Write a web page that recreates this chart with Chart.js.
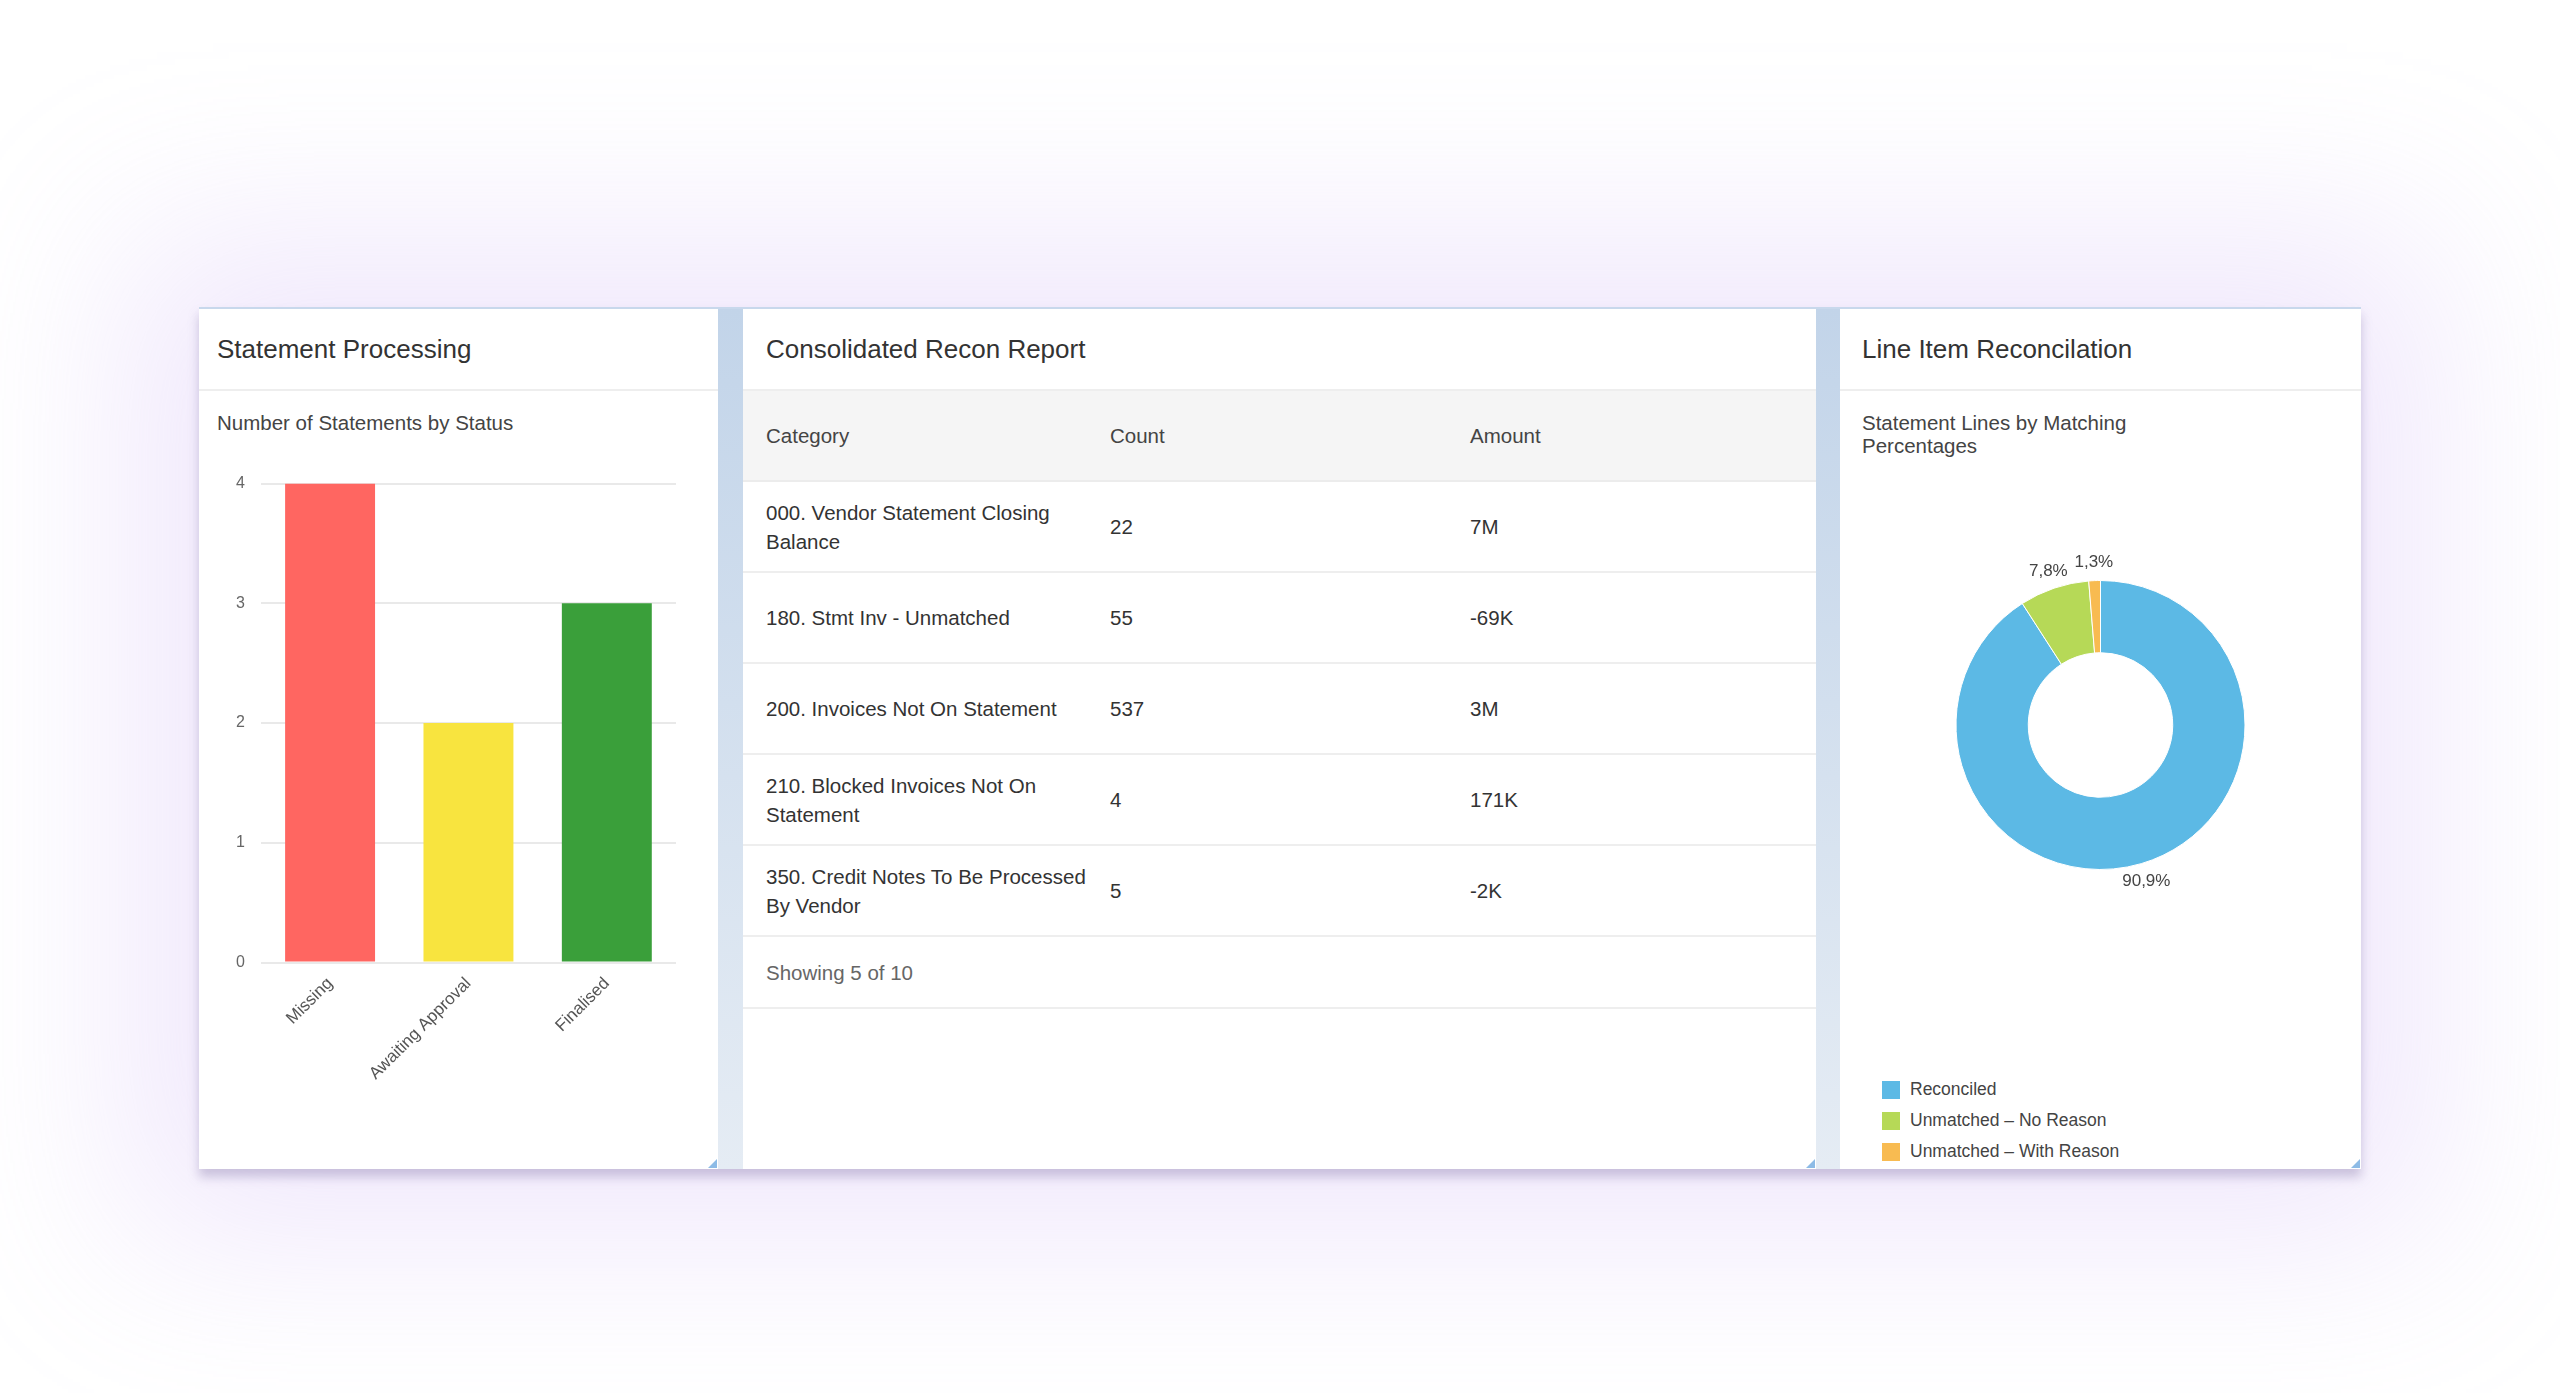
<!DOCTYPE html>
<html>
<head>
<meta charset="utf-8">
<title>Recon Dashboard</title>
<script src="https://cdn.jsdelivr.net/npm/chart.js"></script>
<style>
    html, body { margin: 0; padding: 0; background: #ffffff; }
    body { width: 2560px; height: 1393px; position: relative; overflow: hidden; font-family: "Liberation Sans", Arial, Helvetica, sans-serif; }
    #board {
        position: absolute; left: 199px; top: 307px; width: 2162px; height: 862px;
        background: linear-gradient(to bottom, #c2d4e9, #e5ecf4);
        border-top: 2px solid #c8d8ec;
        box-sizing: border-box;
        box-shadow: 0 8px 10px rgba(120, 105, 160, 0.35), 0 0 170px 70px rgba(205, 180, 245, 0.30);
    }
    .panel { position: absolute; top: 0; height: 860px; background: #ffffff; overflow: hidden; }
    .panel::after {
        content: ''; position: absolute; right: 1px; bottom: 1px; width: 0; height: 0;
        border-left: 9px solid transparent; border-bottom: 9px solid #8dbbe6;
    }
    .panel-head { height: 80px; border-bottom: 2px solid #eeeeee; box-sizing: content-box; }
    .panel-head h2 { margin: 0; font-weight: normal; font-size: 26px; color: #333333; line-height: 80px; }
    .subtitle { position: absolute; font-size: 20.5px; color: #444444; line-height: 23px; }
    #p1 { left: 0; width: 519px; }
    #p2 { left: 544px; width: 1073px; }
    #p3 { left: 1641px; width: 521px; }
    #barBox { position: absolute; left: 0; top: 149px; width: 519px; height: 711px; }
    #pieBox { position: absolute; left: 0; top: 226px; width: 521px; height: 380px; }
    table { border-collapse: collapse; table-layout: fixed; width: 1073px; font-size: 20.5px; color: #333333; }
    th, td { text-align: left; font-weight: normal; vertical-align: middle; padding: 0 0 0 11px; line-height: 29px; }
    th:first-child, td:first-child { padding-left: 23px; padding-right: 0; }
    thead tr { background: #f5f5f5; height: 90px; }
    thead th { color: #444444; border-bottom: 2px solid #ececec; }
    tbody tr { height: 91px; }
    tbody td { border-bottom: 2px solid #eeeeee; }
    tfoot td { height: 70px; color: #666666; border-bottom: 2px solid #eeeeee; }
    #legend { position: absolute; left: 42px; top: 765px; }
    .leg-row { height: 31px; display: flex; align-items: center; font-size: 17.5px; color: #444444; }
    .leg-box { width: 18px; height: 18px; margin-right: 10px; }
</style>
</head>
<body>
<div id="board">
    <div class="panel" id="p1">
        <div class="panel-head"><h2 style="padding-left:18px">Statement Processing</h2></div>
        <div class="subtitle" style="left:18px; top:102px">Number of Statements by Status</div>
        <div id="barBox"><canvas id="barChart"></canvas></div>
    </div>
    <div class="panel" id="p2">
        <div class="panel-head"><h2 style="padding-left:23px">Consolidated Recon Report</h2></div>
        <table id="reconTable">
            <colgroup><col style="width:356px"><col style="width:360px"><col></colgroup>
            <thead><tr><th>Category</th><th>Count</th><th>Amount</th></tr></thead>
            <tbody></tbody>
            <tfoot><tr><td colspan="3" id="showing"></td></tr></tfoot>
        </table>
    </div>
    <div class="panel" id="p3">
        <div class="panel-head"><h2 style="padding-left:22px">Line Item Reconcilation</h2></div>
        <div class="subtitle" style="left:22px; top:102px; width:300px">Statement Lines by Matching Percentages</div>
        <div id="pieBox"><canvas id="pieChart"></canvas></div>
        <div id="legend"></div>
    </div>
</div>

<script>
'use strict'

let statusLabels = ['Missing', 'Awaiting Approval', 'Finalised'];
let statusCounts = [4, 2, 3];
let statusColors = ['#ff6661', '#f8e43f', '#3a9f3a'];
let statusTicks = [0, 1, 2, 3, 4];

let reconCategories = [
    '000. Vendor Statement Closing Balance',
    '180. Stmt Inv - Unmatched',
    '200. Invoices Not On Statement',
    '210. Blocked Invoices Not On Statement',
    '350. Credit Notes To Be Processed By Vendor'
];
let reconCounts = ['22', '55', '537', '4', '5'];
let reconAmounts = ['7M', '-69K', '3M', '171K', '-2K'];
let reconShown = 5;
let reconTotal = 10;

let matchLabels = ['Reconciled', 'Unmatched \u2013 No Reason', 'Unmatched \u2013 With Reason'];
let matchShares = [90.9, 7.8, 1.3];
let matchColors = ['#5cb9e5', '#b6d957', '#f8bb51'];

let fontFamily = '"Liberation Sans", Arial, Helvetica, sans-serif';

// percentage labels just outside the ring
const outsideLabels = {
    id: 'outsideLabels',
    afterDatasetsDraw(chart) {
        let ctx = chart.ctx;
        let meta = chart.getDatasetMeta(0);
        ctx.save();
        ctx.font = '17px ' + fontFamily;
        ctx.fillStyle = '#444444';
        ctx.textAlign = 'center';
        ctx.textBaseline = 'middle';
        meta.data.forEach((arc, i) => {
            let mid = (arc.startAngle + arc.endAngle) / 2;
            let r = arc.outerRadius + 18;
            let text = matchShares[i].toFixed(1).replace('.', ',') + '%';
            ctx.fillText(text, arc.x + Math.cos(mid) * r, arc.y + Math.sin(mid) * r);
        });
        ctx.restore();
    }
};

function fillTable() {
    let body = document.querySelector('#reconTable tbody');
    reconCategories.forEach((cat, i) => {
        let tr = document.createElement('tr');
        [cat, reconCounts[i], reconAmounts[i]].forEach(text => {
            let td = document.createElement('td');
            td.textContent = text;
            tr.appendChild(td);
        });
        body.appendChild(tr);
    });
    document.getElementById('showing').textContent = 'Showing ' + reconShown + ' of ' + reconTotal;
}

function fillLegend() {
    let legend = document.getElementById('legend');
    matchLabels.forEach((label, i) => {
        let row = document.createElement('div');
        row.className = 'leg-row';
        let box = document.createElement('span');
        box.className = 'leg-box';
        box.style.background = matchColors[i];
        row.appendChild(box);
        row.appendChild(document.createTextNode(label));
        legend.appendChild(row);
    });
}

window.onload = function () {
    Chart.defaults.font.family = fontFamily;
    Chart.defaults.animation = false;

    new Chart(document.getElementById('barChart'), {
        type: 'bar',
        data: {
            labels: statusLabels,
            datasets: [{
                data: statusCounts,
                backgroundColor: statusColors,
                barPercentage: 0.65,
                categoryPercentage: 1
            }]
        },
        options: {
            responsive: true,
            maintainAspectRatio: false,
            layout: { padding: { top: 24, right: 42, bottom: 82, left: 21 } },
            plugins: { legend: { display: false }, tooltip: { enabled: false } },
            scales: {
                x: {
                    grid: { display: false },
                    border: { display: false },
                    ticks: { minRotation: 45, maxRotation: 45, color: '#555555', font: { size: 17 } },
                    afterFit: (scale) => { scale.paddingLeft = 0; scale.paddingRight = 0; }
                },
                y: {
                    min: 0,
                    max: statusTicks[statusTicks.length - 1],
                    afterBuildTicks: (scale) => { scale.ticks = statusTicks.map(v => ({ value: v })); },
                    grid: { color: '#e9e9e9', lineWidth: 2, drawTicks: false },
                    border: { display: false },
                    ticks: { padding: 16, color: '#666666', font: { size: 16 } }
                }
            }
        }
    });

    new Chart(document.getElementById('pieChart'), {
        type: 'doughnut',
        data: {
            labels: matchLabels,
            datasets: [{
                data: matchShares,
                backgroundColor: matchColors,
                borderColor: '#ffffff',
                borderWidth: 1
            }]
        },
        options: {
            responsive: true,
            maintainAspectRatio: false,
            cutout: '50%',
            layout: { padding: 45 },
            plugins: { legend: { display: false }, tooltip: { enabled: false } }
        },
        plugins: [outsideLabels]
    });

    fillTable();
    fillLegend();
}
</script>
</body>
</html>
